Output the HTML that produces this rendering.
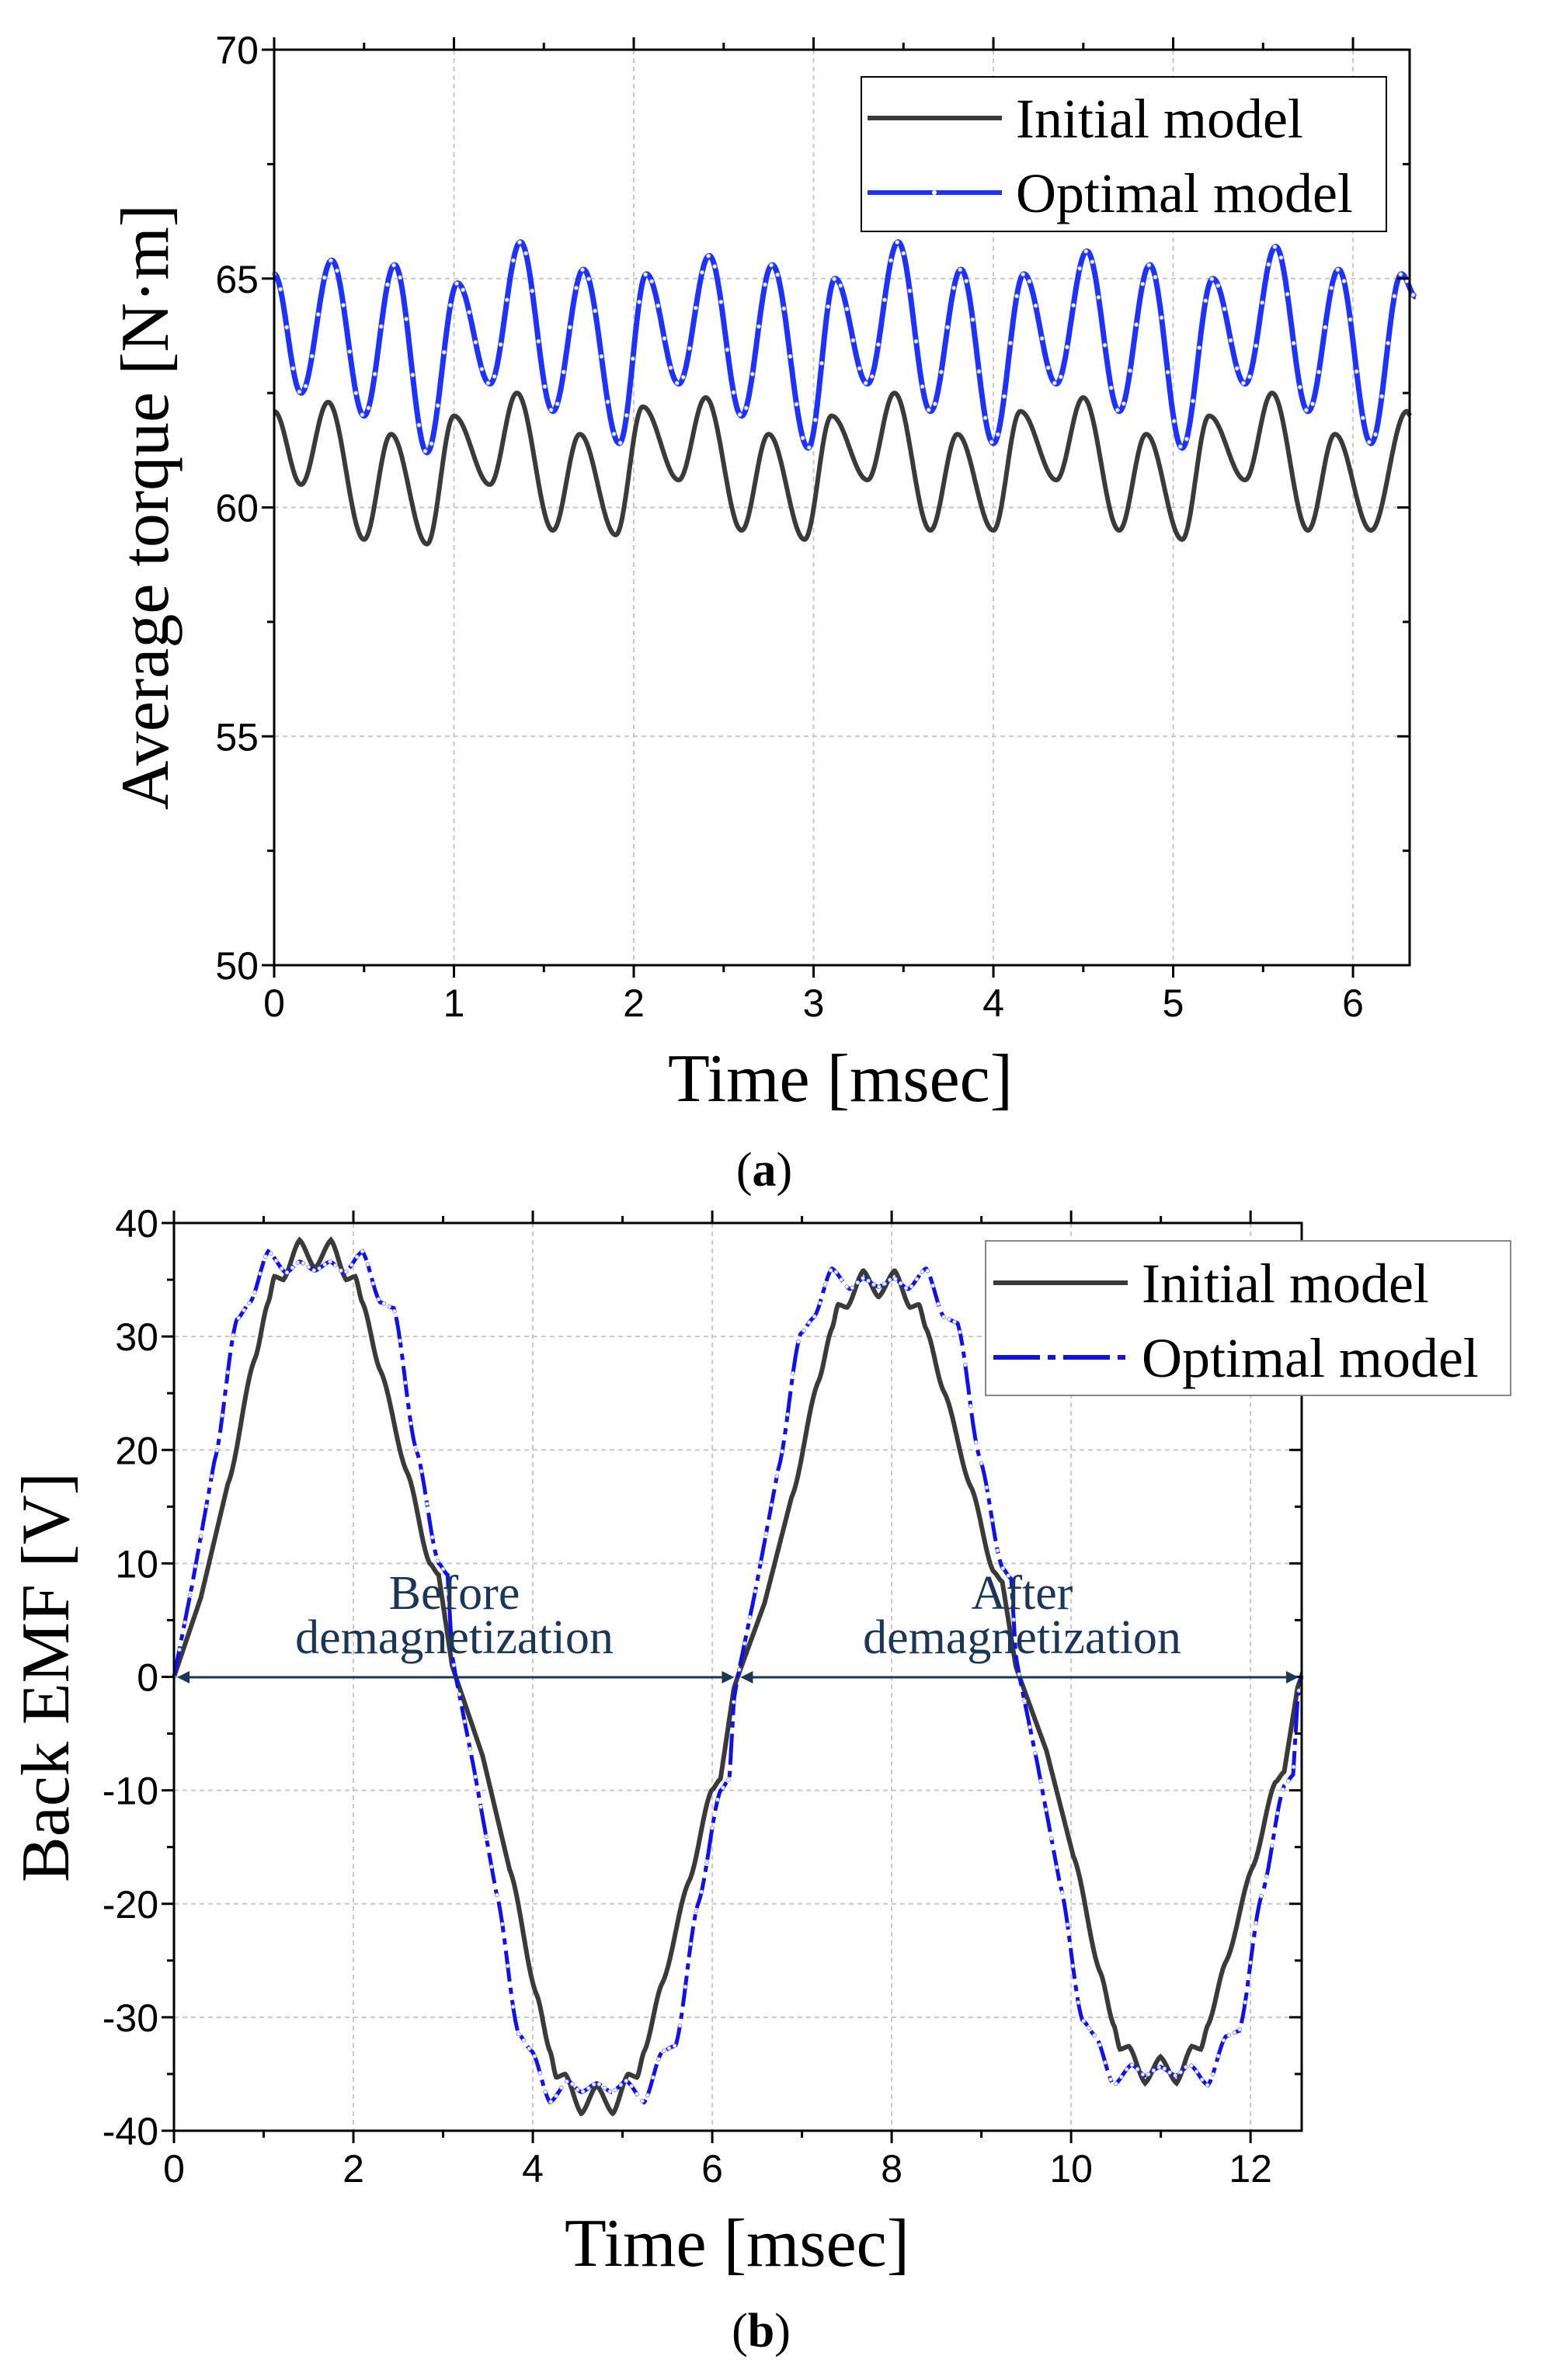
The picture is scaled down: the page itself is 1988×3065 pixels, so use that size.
<!DOCTYPE html>
<html><head><meta charset="utf-8"><style>
html,body{margin:0;padding:0;background:#fff}
svg{display:block}
</style></head><body>
<svg id="s" width="1988" height="3065" xmlns="http://www.w3.org/2000/svg"></svg>
<script>
var out=[];
function P(s){out.push(s);}
function interp(a,t){
 for(var i=0;i<a.length-1;i++){var p=a[i],q=a[i+1];
  if(t>=p[0]&&t<=q[0]){var u=(t-p[0])/(q[0]-p[0]);u=(1-Math.cos(Math.PI*u))/2;return p[1]+(q[1]-p[1])*u;}}
 return a[a.length-1][1];}
function linterp(a,t){
 for(var i=0;i<a.length-1;i++){var p=a[i],q=a[i+1];
  if(t>=p[0]&&t<=q[0]){var u=(t-p[0])/(q[0]-p[0]);
   if(i>1&&i<a.length-3)u=(1-Math.cos(Math.PI*u))/2*0.5+u*0.5;
   return p[1]+(q[1]-p[1])*u;}}
 return a[a.length-1][1];}
var SANS='font-family="Liberation Sans, sans-serif"', SERIF='font-family="Liberation Serif, serif"';
function axes(L,R,T,B,xt,xmin,xmax,xstep,xminor,yt,ymin,ymax,ystep,yminor){
 var X=function(v){return L+(v-xmin)/(xmax-xmin)*(R-L)},Y=function(v){return B-(v-ymin)/(ymax-ymin)*(B-T)};
 for(var v=xmin+xstep;v<xmax-1e-6;v+=xstep)P('<line x1="'+X(v)+'" y1="'+T+'" x2="'+X(v)+'" y2="'+B+'" stroke="#c8c8c8" stroke-width="2" stroke-dasharray="6,5"/>');
 for(var v=ymin+ystep;v<ymax-1e-6;v+=ystep)P('<line x1="'+L+'" y1="'+Y(v)+'" x2="'+R+'" y2="'+Y(v)+'" stroke="#c8c8c8" stroke-width="2" stroke-dasharray="6,5"/>');
 return {X:X,Y:Y};}
function frame(L,R,T,B,X,Y,xmin,xmax,xstep,xminor,ymin,ymax,ystep,yminor){
 P('<rect x="'+L+'" y="'+T+'" width="'+(R-L)+'" height="'+(B-T)+'" fill="none" stroke="#000" stroke-width="3"/>');
 for(var v=xmin;v<=xmax+1e-6;v+=xminor){var maj=Math.abs(v/xstep-Math.round(v/xstep))<1e-6;var l=maj?16:9;
  P('<line x1="'+X(v)+'" y1="'+B+'" x2="'+X(v)+'" y2="'+(B+l)+'" stroke="#000" stroke-width="3"/>');
  P('<line x1="'+X(v)+'" y1="'+T+'" x2="'+X(v)+'" y2="'+(T-l)+'" stroke="#000" stroke-width="3"/>');
  if(maj)P('<text x="'+X(v)+'" y="'+(B+66)+'" '+SANS+' font-size="50" text-anchor="middle">'+Math.round(v)+'</text>');}
 for(var v=ymin;v<=ymax+1e-6;v+=yminor){var maj=Math.abs(v/ystep-Math.round(v/ystep))<1e-6;var l=maj?16:9;
  P('<line x1="'+L+'" y1="'+Y(v)+'" x2="'+(L-l)+'" y2="'+Y(v)+'" stroke="#000" stroke-width="3"/>');
  P('<line x1="'+R+'" y1="'+Y(v)+'" x2="'+(R-l)+'" y2="'+Y(v)+'" stroke="#000" stroke-width="3"/>');
  if(maj)P('<text x="'+(L-20)+'" y="'+(Y(v)+18)+'" '+SANS+' font-size="50" text-anchor="end">'+Math.round(v)+'</text>');}
}
var L=353,R=1815,T=64,B=1243;
var a=axes(L,R,T,B,0,0,6.315,1,0.5,0,50,70,5,2.5);
var gi=[[0,62.1],[0.15,60.5],[0.3,62.3],[0.5,59.3],[0.65,61.6],[0.85,59.2],[1.0,62.0],[1.2,60.5],[1.35,62.5],[1.55,59.5],[1.7,61.6],[1.9,59.4],[2.05,62.2],[2.25,60.6],[2.4,62.4],[2.6,59.5],[2.75,61.6],[2.95,59.3],[3.1,62.0],[3.3,60.6],[3.45,62.5],[3.65,59.5],[3.8,61.6],[4.0,59.5],[4.15,62.1],[4.35,60.6],[4.5,62.4],[4.7,59.5],[4.85,61.6],[5.05,59.3],[5.2,62.0],[5.4,60.6],[5.55,62.5],[5.75,59.5],[5.9,61.6],[6.1,59.5],[6.3,62.1],[6.32,62.0]];
var bo=[[0,65.1],[0.15,62.5],[0.32,65.4],[0.5,62.0],[0.67,65.3],[0.85,61.2],[1.02,64.9],[1.2,62.7],[1.37,65.8],[1.55,62.1],[1.72,65.2],[1.92,61.4],[2.07,65.1],[2.25,62.7],[2.42,65.5],[2.6,62.0],[2.77,65.3],[2.97,61.3],[3.12,65.0],[3.3,62.7],[3.47,65.8],[3.65,62.1],[3.82,65.2],[4.0,61.4],[4.17,65.1],[4.35,62.7],[4.52,65.6],[4.7,62.1],[4.87,65.3],[5.05,61.3],[5.22,65.0],[5.4,62.7],[5.57,65.7],[5.75,62.1],[5.92,65.2],[6.1,61.4],[6.27,65.1],[6.35,64.6]];
function path(arr,X,Y,t0,t1,f){var d='';for(var t=t0;t<=t1+1e-9;t+=0.005){d+=(d?'L':'M')+X(t).toFixed(1)+','+Y(f(arr,t)).toFixed(1);}return d;}
P('<path d="'+path(gi,a.X,a.Y,0,6.32,interp)+'" fill="none" stroke="#3a3a3a" stroke-width="6"/>');
P('<path d="'+path(bo,a.X,a.Y,0,6.35,interp)+'" fill="none" stroke="#1e32ff" stroke-width="7"/>');
for(var t=0;t<=6.35;t+=0.035)P('<circle cx="'+a.X(t).toFixed(1)+'" cy="'+a.Y(interp(bo,t)).toFixed(1)+'" r="2.6" fill="#fff" stroke="#7a8cff" stroke-width="1"/>');
frame(L,R,T,B,a.X,a.Y,0,6.315,1,0.5,50,70,5,2.5);
P('<rect x="1109" y="99" width="676" height="199" fill="#fff" stroke="#000" stroke-width="2"/>');
P('<line x1="1117" y1="152" x2="1290" y2="152" stroke="#3a3a3a" stroke-width="6"/>');
P('<line x1="1117" y1="248" x2="1290" y2="248" stroke="#1e32ff" stroke-width="6"/><circle cx="1203" cy="248" r="3" fill="#fff"/>');
P('<text x="1308" y="177" '+SERIF+' font-size="72">Initial model</text>');
P('<text x="1308" y="273" '+SERIF+' font-size="72">Optimal model</text>');
P('<text transform="translate(216,653) rotate(-90)" '+SERIF+' font-size="88" text-anchor="middle">Average torque [N·m]</text>');
P('<text x="1082" y="1418" '+SERIF+' font-size="88" text-anchor="middle">Time [msec]</text>');
P('<text x="984" y="1527" '+SERIF+' font-size="62" text-anchor="middle">(<tspan font-weight="bold">a</tspan>)</text>');
L=224;R=1676;T=1575;B=2744;
var xm=12.57;
var b=axes(L,R,T,B,0,0,xm,2,1,0,-40,40,10,5);
var hi=[[0,0],[0.3,7],[0.6,17],[0.9,28],[1.05,33],[1.12,35.3],[1.22,35],[1.4,38.5],[1.57,36],[1.75,38.5],[1.92,35],[2.02,35.3],[2.1,33],[2.3,27],[2.6,18],[2.85,10],[2.95,9],[3.1,1],[3.1416,0]];
var hb=[[0,0],[0.2,8],[0.45,19],[0.7,31.5],[0.85,33],[1.05,37.5],[1.25,35.6],[1.4,36.6],[1.57,35.8],[1.74,36.6],[1.9,35.6],[2.1,37.5],[2.3,33],[2.45,32.5],[2.7,20],[2.95,10],[3.05,9],[3.1,2],[3.1416,0]];
function emf(h,s2){return function(arr,t){var k=Math.floor(t/Math.PI);var th=t-k*Math.PI;if(k>3)k=3;
 var v=linterp(h,th);if(k%2==1)v=-v;if(k>=2)v*=s2;return v;};}
var fi=emf(hi,0.93),fb=emf(hb,0.96);
P('<path d="'+path(null,b.X,b.Y,0,xm,fi)+'" fill="none" stroke="#3a3a3a" stroke-width="6"/>');
P('<path d="'+path(null,b.X,b.Y,0,xm,fb)+'" fill="none" stroke="#1010ee" stroke-width="5" stroke-dasharray="40,8,8,8"/>');
for(var t=0;t<=xm;t+=0.06)P('<circle cx="'+b.X(t).toFixed(1)+'" cy="'+b.Y(fb(null,t)).toFixed(1)+'" r="2.4" fill="#fff" stroke="#8090ff" stroke-width="1"/>');
frame(L,R,T,B,b.X,b.Y,0,xm,2,1,-40,40,10,5);
var ay=2160,c='#1c3658';
P('<line x1="'+(L+10)+'" y1="'+ay+'" x2="'+(b.X(6.28)-10)+'" y2="'+ay+'" stroke="'+c+'" stroke-width="3"/>');
P('<line x1="'+(b.X(6.28)+10)+'" y1="'+ay+'" x2="'+(R-10)+'" y2="'+ay+'" stroke="'+c+'" stroke-width="3"/>');
function head(x,dir){P('<path d="M'+x+','+ay+' l'+(dir*16)+',-8 l0,16 z" fill="'+c+'"/>');}
head(L+4,1);head(b.X(6.28)-4,-1);head(b.X(6.28)+4,1);head(R-4,-1);
P('<text x="585" y="2072" '+SERIF+' font-size="62" fill="'+c+'" text-anchor="middle">Before</text>');
P('<text x="585" y="2129" '+SERIF+' font-size="62" fill="'+c+'" text-anchor="middle">demagnetization</text>');
P('<text x="1316" y="2072" '+SERIF+' font-size="62" fill="'+c+'" text-anchor="middle">After</text>');
P('<text x="1316" y="2129" '+SERIF+' font-size="62" fill="'+c+'" text-anchor="middle">demagnetization</text>');
P('<rect x="1269" y="1598" width="676" height="199" fill="#fff" stroke="#888" stroke-width="2"/>');
P('<line x1="1279" y1="1652" x2="1452" y2="1652" stroke="#3a3a3a" stroke-width="6"/>');
P('<line x1="1279" y1="1748" x2="1452" y2="1748" stroke="#1010ee" stroke-width="6" stroke-dasharray="60,10,10,10"/>');
P('<text x="1470" y="1677" '+SERIF+' font-size="72">Initial model</text>');
P('<text x="1470" y="1773" '+SERIF+' font-size="72">Optimal model</text>');
P('<text transform="translate(88,2160) rotate(-90)" '+SERIF+' font-size="88" text-anchor="middle">Back EMF [V]</text>');
P('<text x="949" y="2918" '+SERIF+' font-size="88" text-anchor="middle">Time [msec]</text>');
P('<text x="980" y="3022" '+SERIF+' font-size="62" text-anchor="middle">(<tspan font-weight="bold">b</tspan>)</text>');
document.getElementById('s').innerHTML=out.join('');
</script>
</body></html>
